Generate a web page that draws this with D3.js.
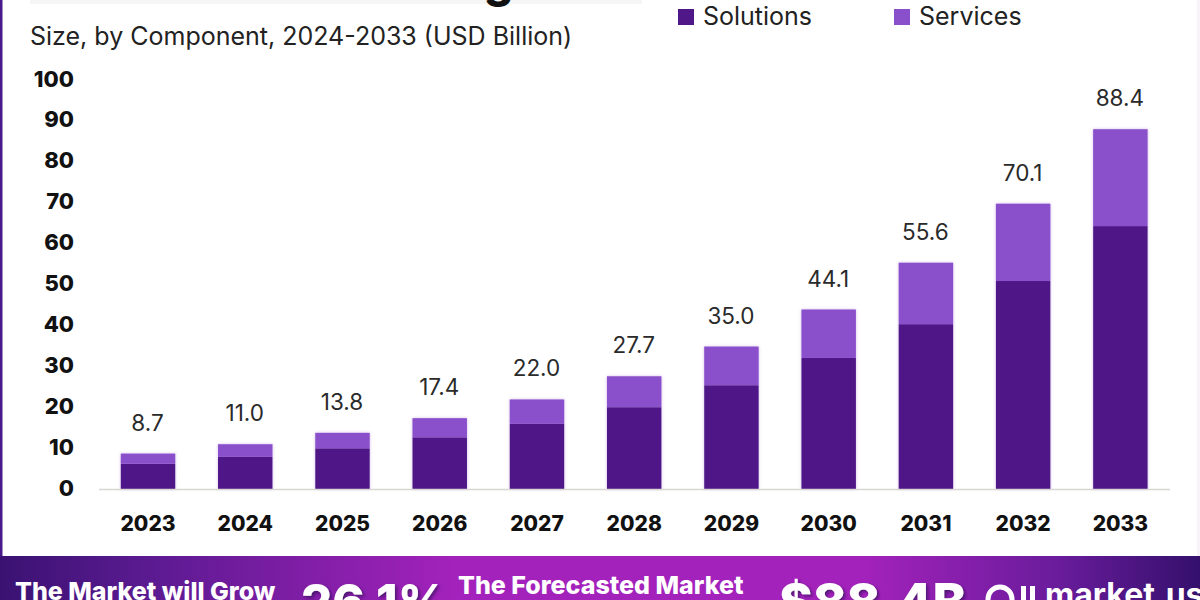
<!DOCTYPE html>
<html><head><meta charset="utf-8">
<script src="https://cdn.jsdelivr.net/npm/d3@7"></script>
<style>html,body{margin:0;padding:0;background:#fff}svg{display:block}text{font-family:Inter,"Noto Sans",sans-serif}</style>
</head><body><svg id="c" width="1200" height="600"></svg>
<script>
const years=["2023","2024","2025","2026","2027","2028","2029","2030","2031","2032","2033"];
const solutions=[6.2,7.9,10.0,12.7,16.0,20.1,25.5,32.2,40.5,51.1,64.6];
const services=[2.5,3.1,3.8,4.7,6.0,7.6,9.5,11.9,15.1,19.0,23.8];
const totals=["8.7","11.0","13.8","17.4","22.0","27.7","35.0","44.1","55.6","70.1","88.4"];
const seriesNames=["Solutions","Services"];
const yTicks=[0,10,20,30,40,50,60,70,80,90,100];
const subtitle="Size, by Component, 2024-2033 (USD Billion)";

const svg=d3.select("#c");
const colors=d3.scaleOrdinal(seriesNames,["#4f1787","#8a4fcb"]);
const x=d3.scaleBand(years,[99.4,1169]).paddingInner(.44).paddingOuter(.22);
const y=d3.scaleLinear([0,100],[489,82]);
const yLabel=d3.scaleLinear([0,100],[488,79]);

const defs=svg.append("defs");
const g=defs.append("linearGradient").attr("id","band");
[[0,"#3a1272"],[.12,"#5a1a90"],[.38,"#a322bb"],[.72,"#a322bb"],[.88,"#6a1c9c"],[1,"#34106c"]]
 .forEach(([o,c])=>g.append("stop").attr("offset",o).attr("stop-color",c));
const f=defs.append("filter").attr("id","soft").attr("x","-10%").attr("y","-10%").attr("width","120%").attr("height","120%");
f.append("feDropShadow").attr("dx",0).attr("dy",0).attr("stdDeviation",1.6).attr("flood-color","#8a4fcb").attr("flood-opacity",.4);
const ts=defs.append("filter").attr("id","ts").attr("x","-5%").attr("y","-5%").attr("width","110%").attr("height","115%");
ts.append("feDropShadow").attr("dx",2).attr("dy",2).attr("stdDeviation",1.5).attr("flood-color","#30085a").attr("flood-opacity",.7);

// frame
svg.append("rect").attr("x",0).attr("y",0).attr("width",2.5).attr("height",556).attr("fill","#4a1a8c");
svg.append("rect").attr("x",1197).attr("y",0).attr("width",3).attr("height",556).attr("fill","#f8f3f8");

// clipped title remnant
svg.append("rect").attr("x",30).attr("y",0).attr("width",612).attr("height",4).attr("fill","#f6f6f6");
svg.append("text").attr("x",484).attr("y",-3).attr("font-size",46).attr("font-weight",800).attr("fill","#111").text("g");

svg.append("text").attr("x",30).attr("y",45).attr("font-size",25).attr("fill","#222").text(subtitle);

// legend
const legendX=d3.scaleOrdinal(seriesNames,[678,894]);
const lg=svg.append("g").selectAll("g").data(seriesNames).join("g");
lg.append("rect").attr("x",d=>legendX(d)).attr("y",9).attr("width",16).attr("height",16).attr("fill",d=>colors(d));
lg.append("text").attr("x",d=>legendX(d)+25).attr("y",25).attr("font-size",25).attr("fill","#222").text(d=>d);

// bars
const rows=years.map((yr,i)=>({yr,Solutions:solutions[i],Services:services[i],label:totals[i]}));
const stack=d3.stack().keys(seriesNames)(rows);
svg.append("g").attr("filter","url(#soft)").selectAll("g").data(stack).join("g").attr("fill",s=>colors(s.key))
 .selectAll("rect").data(s=>s).join("rect")
 .attr("x",d=>x(d.data.yr)).attr("width",x.bandwidth())
 .attr("y",d=>y(d[1])).attr("height",d=>y(d[0])-y(d[1]));

// baseline
svg.append("line").attr("x1",99).attr("x2",1170).attr("y1",489.5).attr("y2",489.5).attr("stroke","#d8d6d2").attr("stroke-width",1.6);

// value labels
svg.append("g").selectAll("text").data(stack[1]).join("text")
 .attr("x",d=>x(d.data.yr)+x.bandwidth()/2-.5).attr("y",d=>y(d[1])-23).attr("text-anchor","middle")
 .attr("font-size",22.5).attr("fill","#2a2a2a").text(d=>d.data.label);

// axes
const ay=svg.append("g").attr("transform","translate(74,0)").call(d3.axisLeft(yLabel).tickValues(yTicks).tickSize(0).tickPadding(0));
ay.select(".domain").remove();
ay.selectAll("text").attr("font-size",22).attr("font-weight",800).attr("fill","#111").style("font-family","Inter");
const ax=svg.append("g").attr("transform","translate(0,516)").call(d3.axisBottom(x).tickSize(0).tickPadding(0));
ax.select(".domain").remove();
ax.selectAll("text").attr("font-size",21).attr("font-weight",800).attr("fill","#111").style("font-family","Inter");

// footer band
svg.append("rect").attr("x",0).attr("y",556).attr("width",1200).attr("height",44).attr("fill","url(#band)");
const foot=svg.append("g").attr("fill","#fff");
foot.append("text").attr("x",15).attr("y",600).attr("font-size",25).attr("font-weight",800).text("The Market will Grow");
foot.append("text").attr("x",301).attr("y",620).attr("font-size",49).attr("font-weight",800).attr("filter","url(#ts)").text("26.1%");
foot.append("text").attr("x",458).attr("y",594).attr("font-size",25).attr("font-weight",800).text("The Forecasted Market");
foot.append("text").attr("x",779).attr("y",620).attr("font-size",51).attr("font-weight",800).attr("filter","url(#ts)").text("$88.4B");
foot.append("circle").attr("cx",1000).attr("cy",599).attr("r",12).attr("fill","none").attr("stroke","#fff").attr("stroke-width",5);
foot.selectAll("rect.logo").data([1021,1030]).join("rect").attr("class","logo").attr("x",d=>d).attr("y",586).attr("width",5).attr("height",14);
foot.append("text").attr("x",1045).attr("y",606).attr("font-size",32).attr("font-weight",700).text("market.us");
</script></body></html>
